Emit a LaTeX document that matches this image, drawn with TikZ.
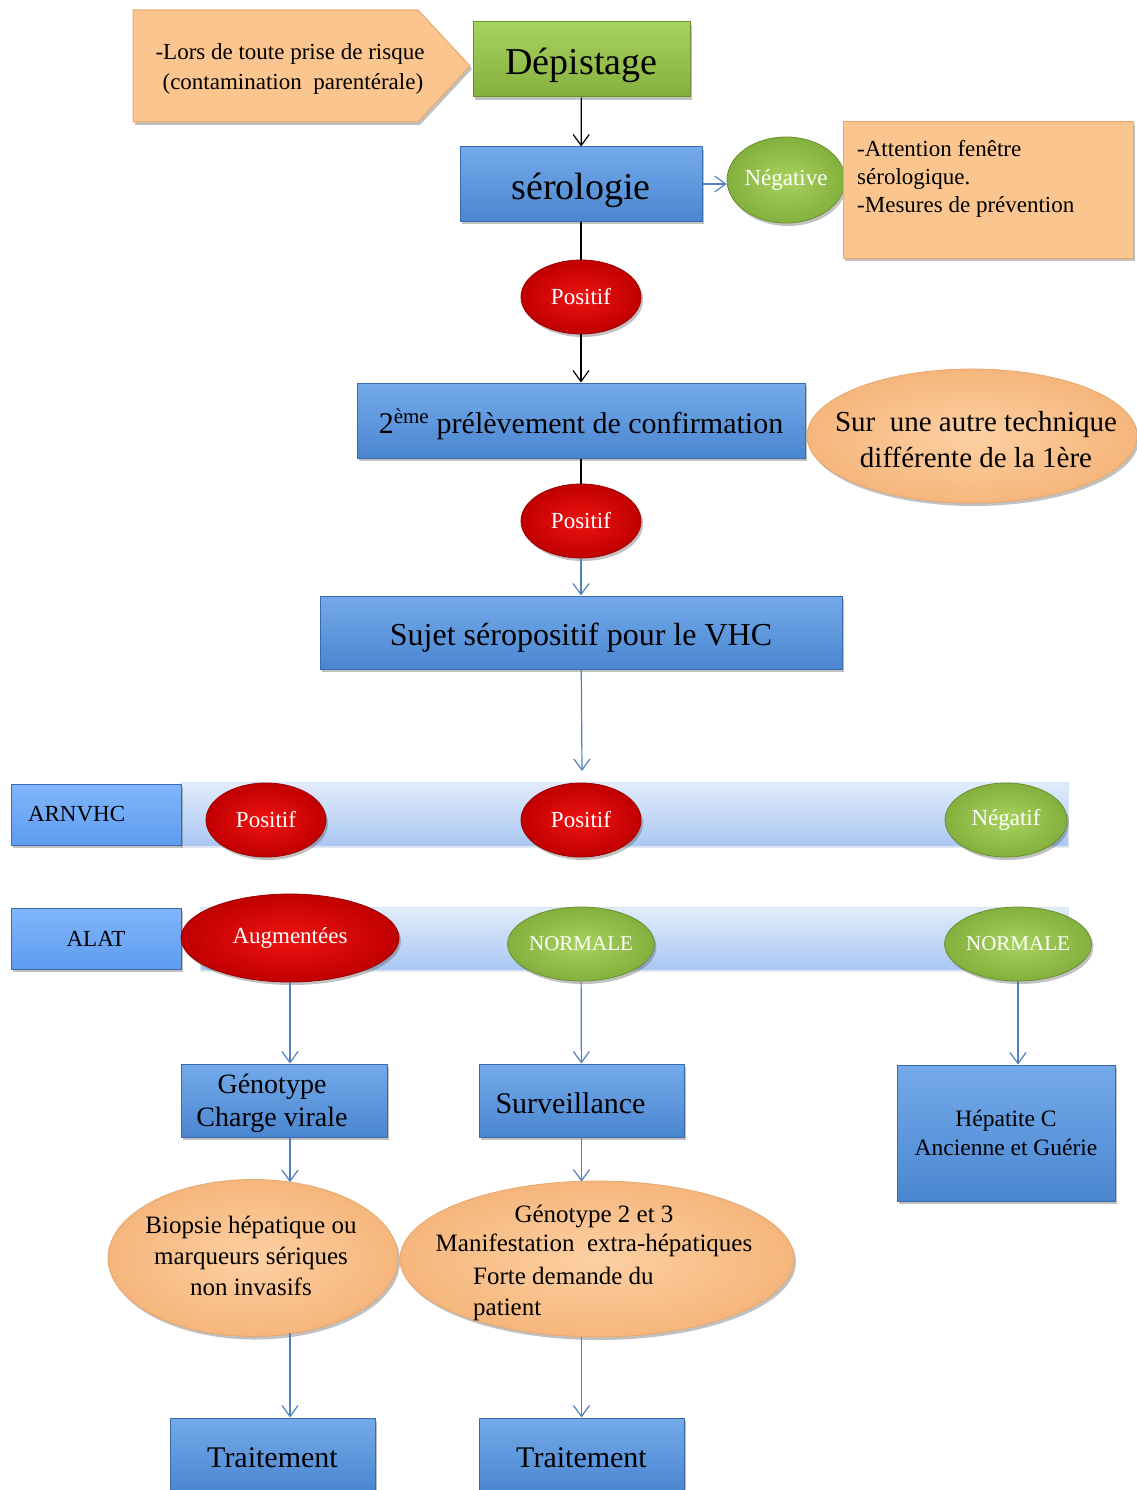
\documentclass[tikz,border=0pt]{standalone}
\usepackage{fontspec}
\setmainfont{Liberation Serif}
\usetikzlibrary{shapes.geometric,arrows.meta,shadows}
\definecolor{bluet}{HTML}{74AAEA}
\definecolor{blueb}{HTML}{4A86D0}
\definecolor{bluedraw}{HTML}{3A6AAA}
\definecolor{lbluet}{HTML}{80B6FA}
\definecolor{lblueb}{HTML}{5F9CF0}
\definecolor{greent}{HTML}{A8D25E}
\definecolor{greenb}{HTML}{84B03E}
\definecolor{greendraw}{HTML}{6A9030}
\definecolor{redin}{HTML}{F01212}
\definecolor{redout}{HTML}{C00000}
\definecolor{reddraw}{HTML}{9A0000}
\definecolor{orf}{HTML}{FAC58F}
\definecolor{ordraw}{HTML}{E6A870}
\definecolor{orin}{HTML}{FDD0A2}
\definecolor{orout}{HTML}{F5B67C}
\definecolor{arrblue}{HTML}{4F81BD}
\definecolor{bandt}{HTML}{E2ECFB}
\definecolor{bandb}{HTML}{A9C7F3}
\tikzset{
  fs/.style={font=\fontsize{#1}{#1}\selectfont},
  low/.style={text height=#1,text depth=0pt},
  shad/.style={drop shadow={shadow xshift=2pt,shadow yshift=-3pt,opacity=0.35,fill=black!70}},
  bluebox/.style={rectangle,inner sep=0pt,top color=bluet,bottom color=blueb,draw=bluedraw,line width=1pt,shad,align=center},
  lbluebox/.style={rectangle,inner sep=0pt,top color=lbluet,bottom color=lblueb,draw=bluedraw,line width=1pt,shad},
  greenbox/.style={rectangle,inner sep=0pt,top color=greent,bottom color=greenb,draw=greendraw,line width=1pt,shad},
  redell/.style={ellipse,inner sep=0pt,shading=radial,inner color=redin,outer color=redout,draw=reddraw,line width=0.8pt,shad,text=white},
  greenell/.style={ellipse,inner sep=0pt,shading=radial,inner color=greent,outer color=greenb,draw=greendraw,line width=0.8pt,shad,text=white},
  orell/.style={ellipse,inner sep=0pt,shading=radial,inner color=orin,outer color=orout,draw=ordraw,line width=0.8pt,shad,align=center},
  band/.style={rectangle,inner sep=0pt,top color=bandt,bottom color=bandb,draw=bandt!80!bandb,line width=0.5pt,drop shadow={shadow xshift=1pt,shadow yshift=-2pt,opacity=0.2}},
  arr/.style={-{Straight Barb[length=11pt,width=16pt,line width=1.2pt]},line width=1.2pt},
  blk/.style={draw=black},
  blu/.style={draw=arrblue},
}
\begin{document}
\begin{tikzpicture}[x=1pt,y=-1pt]
\useasboundingbox (0,0) rectangle (1136,1490);

% top pentagon
\path[fill=orf,draw=ordraw,line width=1pt,shad] (133,10) -- (418,10) -- (470,66) -- (418,122) -- (133,122) -- cycle;
\node[align=center,font=\fontsize{23}{30}\selectfont] (risk) at (290,69) {-Lors de toute prise de risque\\ \ (contamination\ \ parentérale)};

\node[greenbox,minimum width=217pt,minimum height=75pt,fs=38,low=31pt] (dep) at (581.5,59.5) {Dépistage};
\node[bluebox,minimum width=242pt,minimum height=74pt,fs=38,low=31pt] (sero) at (581,184) {sérologie};
\node[greenell,minimum width=118pt,minimum height=86pt,fs=23] (neg) at (786,180) {Négative};
\node[rectangle,fill=orf,draw=ordraw,line width=1pt,shad,minimum width=290pt,minimum height=136pt] (attn) at (988,190) {};
\node[align=left,anchor=north west,inner sep=0pt,font=\fontsize{23}{28}\selectfont] (attntxt) at (857,140) {-Attention fenêtre\\sérologique.\\-Mesures de prévention};

\node[redell,minimum width=120pt,minimum height=74pt,fs=23] (pos1) at (581,297) {Positif};
\node[bluebox,minimum width=448pt,minimum height=75pt,fs=30,low=25pt] (conf) at (581,420.5) {2\textsuperscript{ème} prélèvement de confirmation};
\node[orell,minimum width=330pt,minimum height=134pt] (tech) at (972,436) {};
\node[align=center,inner sep=0pt,font=\fontsize{29}{36}\selectfont] (techtxt) at (976,440) {Sur\ \ une autre technique\\ différente de la 1ère};
\node[redell,minimum width=120pt,minimum height=74pt,fs=23] (pos2) at (581,521) {Positif};
\node[bluebox,minimum width=522pt,minimum height=73pt,fs=32,low=26pt] (sujet) at (581,632.5) {Sujet séropositif pour le VHC};
\coordinate (sujetend) at (582,771);

% ARNVHC row
\node[band,minimum width=888pt,minimum height=64pt] (band1) at (624,814) {};
\node[lbluebox,minimum width=170pt,minimum height=61pt,fs=23,text width=136pt,inner xsep=17pt,align=left] (arn) at (96,814.5) {ARNVHC};
\node[redell,minimum width=120pt,minimum height=74pt,fs=23] (apos1) at (266,820) {Positif};
\node[redell,minimum width=120pt,minimum height=74pt,fs=23] (apos2) at (581,820) {Positif};
\node[greenell,minimum width=122pt,minimum height=74pt,fs=23] (aneg) at (1006,820) {Négatif};

% ALAT row
\node[band,minimum width=868pt,minimum height=63pt] (band2) at (634,938.5) {};
\node[lbluebox,minimum width=170pt,minimum height=61pt,fs=23] (alat) at (96,938.5) {ALAT};
\node[redell,minimum width=218pt,minimum height=88pt,fs=23] (aug) at (290,938) {Augmentées};
\node[greenell,minimum width=146pt,minimum height=74pt,fs=21] (norm1) at (581,944) {NORMALE};
\node[greenell,minimum width=146pt,minimum height=74pt,fs=21] (norm2) at (1018,944) {NORMALE};

% lower part
\node[bluebox,minimum width=206pt,minimum height=73pt,font=\fontsize{28}{33}\selectfont,text depth=0pt] (geno) at (284,1100.5) {Génotype\hspace*{24pt}\\Charge virale\hspace*{24pt}};
\node[bluebox,minimum width=205pt,minimum height=73pt,fs=30,low=25pt] (surv) at (581.5,1100.5) {Surveillance\hspace*{22pt}};
\node[bluebox,minimum width=218pt,minimum height=136pt,font=\fontsize{23.5}{29}\selectfont] (hep) at (1006,1133) {Hépatite C\\Ancienne et Guérie};

\node[orell,minimum width=290pt,minimum height=157pt] (bio) at (253,1258) {};
\node[align=center,font=\fontsize{25}{31}\selectfont,inner sep=0pt] (biotxt) at (251,1256) {Biopsie hépatique ou\\marqueurs sériques\\non invasifs};
\node[orell,minimum width=394pt,minimum height=156pt] (g23) at (597,1259) {};
\node[align=center,font=\fontsize{25}{29}\selectfont,inner sep=0pt] (g23a) at (594,1231) {Génotype 2 et 3\\Manifestation\ \ extra-hépatiques};
\node[align=left,font=\fontsize{25}{31}\selectfont,inner sep=0pt,anchor=west] (g23b) at (473,1294) {Forte demande du\\patient};

\node[bluebox,minimum width=205pt,minimum height=74pt,fs=30,low=25pt] (trt1) at (272.5,1455) {Traitement};
\node[bluebox,minimum width=205pt,minimum height=74pt,fs=30,low=25pt] (trt2) at (581.5,1455) {Traitement};

% connectors
\draw[arr,blk] (dep) -- (sero);
\draw[arr,blu] (sero.east) -- (sero.east -| neg.west);
\draw[blk,line width=1.2pt] (sero) -- (pos1);
\draw[arr,blk] (pos1) -- (conf);
\draw[blk,line width=1.2pt] (conf) -- (pos2);
\draw[arr,blu] (pos2) -- (sujet);
\draw[arr,blu] (sujet) -- (sujetend);
\draw[arr,blu] (aug.south) -- (aug.south |- geno.north);
\draw[arr,blu] (norm1) -- (surv);
\draw[arr,blu] (norm2.south) -- (norm2.south |- hep.north);
\draw[arr,blu] (aug |- geno.south) -- ([yshift=-3pt]aug |- bio.north);
\draw[arr,blu] (surv.south) -- ([yshift=-1pt]surv.south |- g23.north);
\draw[arr,blu] (aug |- bio.south) ++(0,-4) -- (aug |- trt1.north);
\draw[arr,blu] (surv.south |- g23.south) -- (surv.south |- trt2.north);
\end{tikzpicture}
\end{document}
